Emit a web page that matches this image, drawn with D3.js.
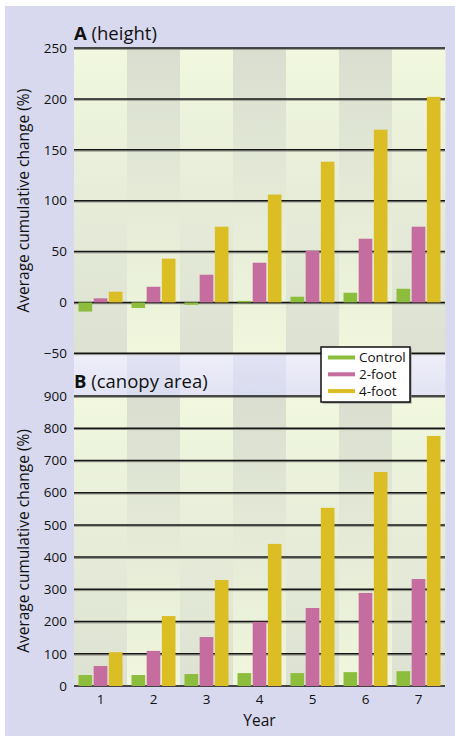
<!DOCTYPE html>
<html>
<head>
<meta charset="utf-8">
<script src="https://cdn.jsdelivr.net/npm/d3@7"></script>
<style>
  html, body { margin: 0; padding: 0; background: #fff; }
  svg { display: block; font-family: "Open Sans", "Noto Sans", sans-serif; }
</style>
</head>
<body>
<svg id="chart" width="455" height="736"></svg>
<script>
// ---- data ----
const years = ["1", "2", "3", "4", "5", "6", "7"];
const seriesNames = ["Control", "2-foot", "4-foot"];
const seriesColors = ["#8dbd3c", "#c46d9e", "#dbbd24"];

const heightControl = [-9, -5.5, -2.3, 1.5, 5.6, 9.5, 13.4];
const height2ft     = [4, 15.4, 27.2, 39, 50.8, 62.6, 74.4];
const height4ft     = [10.5, 43, 74.4, 106, 138.3, 169.7, 202];

const canopyControl = [34, 34, 37, 40, 40, 43, 46];
const canopy2ft     = [62, 109, 152, 199, 242, 289, 332];
const canopy4ft     = [105, 217, 329, 441, 553, 664, 776];

const heightTicks = [-50, 0, 50, 100, 150, 200, 250];
const canopyTicks = [0, 100, 200, 300, 400, 500, 600, 700, 800, 900];

// ---- layout ----
const svg = d3.select("#chart");
const L = 74, R = 445;

svg.append("rect").attr("x", 5).attr("y", 6).attr("width", 450).attr("height", 730).attr("fill", "#d8d9ee");

const defs = svg.append("defs");
function grad(id, c1, c2) {
  const g = defs.append("linearGradient").attr("id", id).attr("x1", 0).attr("y1", 0).attr("x2", 0).attr("y2", 1);
  g.append("stop").attr("offset", "0%").attr("stop-color", c1);
  g.append("stop").attr("offset", "100%").attr("stop-color", c2);
}
grad("gLight", "#f1f8df", "#dce1d2");
grad("gDark", "#d9ded0", "#f0f7dd");
grad("bLight", "#efeffa", "#e2e3f3");
grad("bDark", "#e2e3f3", "#d9dbef");

const x = d3.scaleBand().domain(years).range([L, R]).padding(0);
const xs = d3.scaleBand().domain(seriesNames).range([4.5, 48.5]).paddingInner(0.1);

function panel(opts) {
  const { y, ticks, data, top, bottom, title, titleRest, titleY, titleSize, zeroStyle } = opts;
  const g = svg.append("g");
  // stripes
  g.selectAll("rect.stripe").data(years).join("rect")
    .attr("x", d => x(d)).attr("y", top)
    .attr("width", x.bandwidth() + 0.5).attr("height", bottom - top)
    .attr("fill", (d, i) => i % 2 === 0 ? "url(#gLight)" : "url(#gDark)");
  // grid lines
  ticks.forEach(t => {
    const yy = y(t);
    if (zeroStyle && t === 0) {
      g.append("line").attr("x1", L).attr("x2", R).attr("y1", yy).attr("y2", yy)
        .attr("stroke", "#444").attr("stroke-width", 2);
    } else {
      g.append("line").attr("x1", L).attr("x2", R).attr("y1", yy + 1.3).attr("y2", yy + 1.3)
        .attr("stroke", "#8a8c82").attr("stroke-width", 1);
      g.append("line").attr("x1", L).attr("x2", R).attr("y1", yy).attr("y2", yy)
        .attr("stroke", "#151515").attr("stroke-width", 1.5);
    }
  });
  // bars
  seriesNames.forEach((s, si) => {
    g.selectAll("rect.bar" + si).data(data[si]).join("rect")
      .attr("x", (d, i) => x(years[i]) + xs(s))
      .attr("width", xs.bandwidth())
      .attr("y", d => Math.min(y(d), y(0)))
      .attr("height", d => Math.abs(y(d) - y(0)))
      .attr("fill", seriesColors[si]);
  });
  // tick labels
  const axis = d3.axisLeft(y).tickValues(ticks).tickSize(0).tickPadding(0)
    .tickFormat(d => d < 0 ? "\u2212" + Math.abs(d) : String(d));
  const ax = g.append("g").attr("transform", `translate(${L - 7},0)`).call(axis);
  ax.select(".domain").remove();
  ax.selectAll("text").attr("font-size", 13.5).attr("fill", "#111")
    .attr("font-family", "'Open Sans', sans-serif");
  // title
  const t = g.append("text").attr("x", L).attr("y", titleY).attr("font-size", titleSize).attr("fill", "#111");
  t.append("tspan").attr("font-weight", "bold").text(title);
  t.append("tspan").text(" " + titleRest);
  // y axis title
  g.append("text")
    .attr("transform", `translate(29,${(top + bottom) / 2}) rotate(-90)`)
    .attr("text-anchor", "middle").attr("font-size", 15.5).attr("fill", "#111")
    .text("Average cumulative change (%)");
}

// Panel A
const yA = d3.scaleLinear().domain([-50, 250]).range([353.3, 48]);
// lavender band under panel A
svg.selectAll("rect.band").data(years).join("rect")
  .attr("x", d => x(d)).attr("y", 353).attr("width", x.bandwidth() + 0.5).attr("height", 43)
  .attr("fill", (d, i) => i % 2 === 0 ? "url(#bLight)" : "url(#bDark)");

panel({ y: yA, ticks: heightTicks, data: [heightControl, height2ft, height4ft],
        top: 48, bottom: 353.3, title: "A", titleRest: "(height)", titleY: 40, titleSize: 18.5, zeroStyle: false });

// Panel B
const yB = d3.scaleLinear().domain([0, 900]).range([686, 396]);
panel({ y: yB, ticks: canopyTicks, data: [canopyControl, canopy2ft, canopy4ft],
        top: 396, bottom: 686, title: "B", titleRest: "(canopy area)", titleY: 388, titleSize: 18.5, zeroStyle: true });

// x axis labels
const xa = svg.append("g").attr("transform", "translate(0,690)")
  .call(d3.axisBottom(x).tickSize(0).tickPadding(0));
xa.select(".domain").remove();
xa.selectAll("text").attr("font-size", 13.5).attr("fill", "#111")
  .attr("font-family", "'Open Sans', sans-serif").attr("dy", "1em");
svg.append("text").attr("x", (L + R) / 2).attr("y", 726).attr("text-anchor", "middle")
  .attr("font-size", 15.5).attr("fill", "#111").text("Year");

// legend
const lg = svg.append("g");
lg.append("rect").attr("x", 322.5).attr("y", 348.5).attr("width", 89).attr("height", 55).attr("fill", "#8a8a8a");
lg.append("rect").attr("x", 321).attr("y", 347).attr("width", 89).attr("height", 55)
  .attr("fill", "#fff").attr("stroke", "#111").attr("stroke-width", 1.5);
seriesNames.forEach((s, i) => {
  const yy = 357.5 + i * 16.8;
  lg.append("line").attr("x1", 328).attr("x2", 355).attr("y1", yy).attr("y2", yy)
    .attr("stroke", seriesColors[i]).attr("stroke-width", 4);
  lg.append("text").attr("x", 359).attr("y", yy + 4.8).attr("font-size", 13.5).attr("fill", "#111").text(s);
});
</script>
</body>
</html>
